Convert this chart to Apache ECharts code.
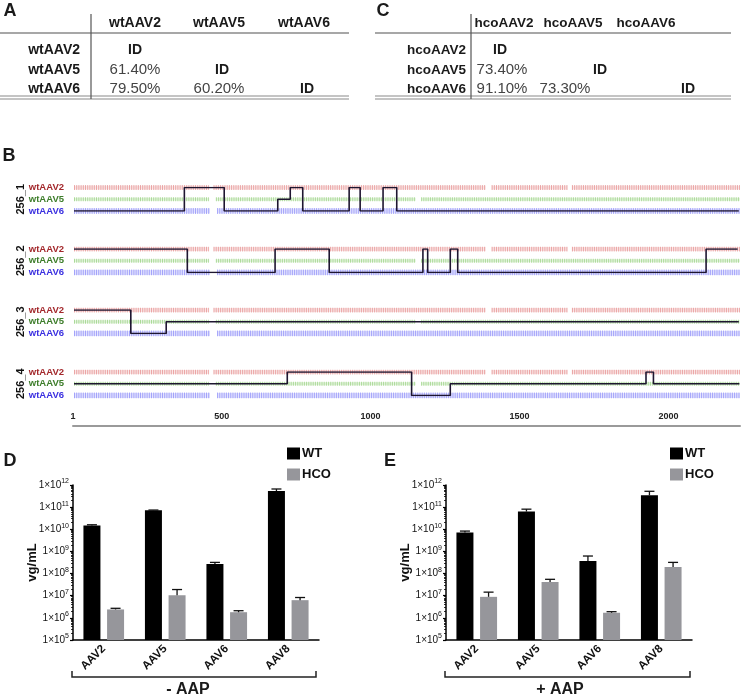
<!DOCTYPE html>
<html><head><meta charset="utf-8">
<script src="https://cdn.jsdelivr.net/npm/echarts@6/dist/echarts.min.js"></script>
<style>html,body{margin:0;padding:0;background:#fff}#c{width:744px;height:698px}</style>
</head><body><div id="c"></div>
<script>
// ================= DATA =================
// Panel A / C identity tables
const tableAHeaders = ['wtAAV2', 'wtAAV5', 'wtAAV6'];
const tableARows = ['wtAAV2', 'wtAAV5', 'wtAAV6'];
const tableAValues = [['ID', '', ''], ['61.40%', 'ID', ''], ['79.50%', '60.20%', 'ID']];
const tableCHeaders = ['hcoAAV2', 'hcoAAV5', 'hcoAAV6'];
const tableCRows = ['hcoAAV2', 'hcoAAV5', 'hcoAAV6'];
const tableCValues = [['ID', '', ''], ['73.40%', 'ID', ''], ['91.10%', '73.30%', 'ID']];

// Panel B: parents (bottom -> top) and clone crossover maps
const parents = ['wtAAV6', 'wtAAV5', 'wtAAV2'];
const cloneNames = ['256_1', '256_2', '256_3', '256_4'];
// [position (nt), parent index: 0 = wtAAV6, 1 = wtAAV5, 2 = wtAAV2]
const clone256_1 = [[1,0],[372,2],[506,0],[686,1],[728,2],[770,0],[926,2],[963,0],[1040,2],[1086,0],[2236,0]];
const clone256_2 = [[1,2],[382,0],[677,2],[859,0],[1174,2],[1190,0],[1266,2],[1291,0],[2126,2],[2232,2]];
const clone256_3 = [[1,2],[192,0],[311,1],[2236,1]];
const clone256_4 = [[1,1],[718,2],[1136,0],[1266,1],[1924,2],[1949,1],[2238,1]];
const seqLength = 2240;
const positionTicks = [1, 500, 1000, 1500, 2000];
// stretches carrying parent-specific marks [start, end]
const marksAAV2 = [[1, 455], [470, 1385], [1405, 1660], [1675, 2240]];
const marksAAV5 = [[1, 455], [478, 1150], [1168, 2240]];
const marksAAV6 = [[1, 458], [482, 2240]];

// Panels D / E: titers (vg/mL), bar heights and upper error ends
const serotypes = ['AAV2', 'AAV5', 'AAV6', 'AAV8'];
const wtMinusAAP     = [1.5e10, 7.2e10, 2.7e8, 5.3e11];
const wtMinusAAPErr  = [1.6e10, 7.4e10, 3.2e8, 6.6e11];
const hcoMinusAAP    = [2.4e6, 1.05e7, 1.8e6, 6.3e6];
const hcoMinusAAPErr = [2.7e6, 1.9e7, 2.1e6, 8.3e6];
const wtPlusAAP      = [7.2e9, 6.3e10, 3.7e8, 3.4e11];
const wtPlusAAPErr   = [8.3e9, 8.1e10, 6.2e8, 5.2e11];
const hcoPlusAAP     = [8.9e6, 4.2e7, 1.7e6, 2.0e8];
const hcoPlusAAPErr  = [1.45e7, 5.5e7, 1.9e6, 3.2e8];
const groupLabels = ['- AAP', '+ AAP'];

// ================= STYLE / LAYOUT =================
const FONT = 'Liberation Sans, Arial, Helvetica, sans-serif';
const parentColors = ['#3a2fe0', '#3d7d2a', '#a3282c'];
const markColors = ['rgba(110,110,245,0.55)', 'rgba(120,195,90,0.55)', 'rgba(220,100,100,0.5)'];
const bandColors = ['rgba(150,150,250,0.25)', 'rgba(160,215,140,0.25)', 'rgba(235,160,160,0.25)'];
const markWidths = [6, 4, 5];
const trackTops = [187.5, 249, 310, 372];
const trackH = 23.5;
const barW = 17, barGapPct = 0.39;
const barOffset = barW * (1 + barGapPct) / 2;

const chart = echarts.init(document.getElementById('c'), null, { renderer: 'canvas' });

const grids = [], xAxes = [], yAxes = [], series = [];

// ---- Panel B tracks ----
const clones = [clone256_1, clone256_2, clone256_3, clone256_4];
const marks = [marksAAV6, marksAAV5, marksAAV2];
clones.forEach((cl, k) => {
  grids.push({ left: 74, right: 4, top: trackTops[k], height: trackH });
  xAxes.push({ gridIndex: k, type: 'value', min: 1, max: seqLength, show: false });
  yAxes.push({
    gridIndex: k, type: 'value', min: 0, max: 2, interval: 1,
    axisLine: { show: false }, axisTick: { show: false }, splitLine: { show: false },
    axisLabel: { fontSize: 9.5, fontWeight: 'bold', fontFamily: FONT, margin: 10,
      formatter: (v) => parents[v] || '',
      color: (v) => parentColors[v] },
    name: cloneNames[k], nameLocation: 'middle', nameRotate: 90, nameGap: 48,
    nameMoveOverlap: false,
    nameTextStyle: { fontSize: 11, fontWeight: 'bold', fontFamily: FONT, color: '#111' }
  });
  marks.forEach((segs, p) => {
    const d = [];
    segs.forEach((s, j) => {
      if (j > 0) d.push([s[0], '-']);
      d.push([s[0], p], [s[1], p]);
    });
    // pale band
    series.push({ type: 'line', xAxisIndex: k, yAxisIndex: k, data: d, symbol: 'none', silent: true,
      z: 1, connectNulls: false, lineStyle: { color: bandColors[p], width: markWidths[p] - 1 } });
    // fine tick texture
    series.push({ type: 'line', xAxisIndex: k, yAxisIndex: k, data: d, symbol: 'none', silent: true,
      z: 1, connectNulls: false,
      lineStyle: { color: markColors[p], width: markWidths[p], type: [1, 1.2] } });
  });
  series.push({ type: 'line', xAxisIndex: k, yAxisIndex: k, data: cl, step: 'end',
    symbol: 'none', silent: true, z: 3, lineStyle: { color: '#1e1630', width: 1.6 } });
});
// position axis
grids.push({ left: 73, right: 4, top: 400, height: 26 });
xAxes.push({ gridIndex: 4, type: 'value', min: 1, max: seqLength,
  axisLine: { show: true, lineStyle: { color: '#9a9a9a', width: 2 } },
  axisTick: { show: false }, splitLine: { show: false },
  axisLabel: { inside: true, customValues: positionTicks, margin: 5, fontSize: 9,
    fontWeight: 'bold', fontFamily: FONT, color: '#222', formatter: (v) => String(v) } });
yAxes.push({ gridIndex: 4, type: 'value', min: 0, max: 1, show: false });

// ---- Panels D / E ----
function errRender(sign) {
  return function (params, api) {
    const cat = api.value(0);
    const b = api.coord([cat, api.value(1)]);
    const t = api.coord([cat, api.value(2)]);
    const x = b[0] + sign * barOffset;
    const st = { stroke: '#111', lineWidth: 1.3 };
    return { type: 'group', children: [
      { type: 'line', shape: { x1: x, y1: b[1], x2: x, y2: t[1] }, style: st },
      { type: 'line', shape: { x1: x - 5, y1: t[1], x2: x + 5, y2: t[1] }, style: st }
    ] };
  };
}
const barPanels = [
  { left: 73, legendLeft: 287, wt: wtMinusAAP, wtE: wtMinusAAPErr, hco: hcoMinusAAP, hcoE: hcoMinusAAPErr },
  { left: 446, legendLeft: 670, wt: wtPlusAAP, wtE: wtPlusAAPErr, hco: hcoPlusAAP, hcoE: hcoPlusAAPErr }
];
const legends = [];
barPanels.forEach((p, i) => {
  const gi = 5 + i;
  grids.push({ left: p.left, top: 485, width: 246, height: 155 });
  xAxes.push({ gridIndex: gi, type: 'category', data: serotypes,
    axisLine: { lineStyle: { color: '#000', width: 1.5 } },
    axisTick: { alignWithLabel: true, length: 4, lineStyle: { color: '#000', width: 1.3 } },
    axisLabel: { rotate: 45, fontSize: 11.5, fontWeight: 'bold', fontFamily: FONT, color: '#111', margin: 7 } });
  yAxes.push({ gridIndex: gi, type: 'log', logBase: 10, min: 1e5, max: 1e12, interval: 1,
    axisLine: { show: true, lineStyle: { color: '#000', width: 1.5 } },
    axisTick: { show: true, length: 3, lineStyle: { color: '#000', width: 1.2 } },
    minorTick: { show: true, splitNumber: 9, length: 2, lineStyle: { color: '#000', width: 0.8 } },
    splitLine: { show: false },
    axisLabel: { margin: 4, fontFamily: FONT, color: '#111',
      formatter: (v) => '{m|1×10}{e|' + Math.round(Math.log10(v)) + '}',
      rich: { m: { fontSize: 10, fontFamily: FONT, color: '#111' },
              e: { fontSize: 7, fontFamily: FONT, color: '#111', padding: [0, 0, 7, 0] } } },
    name: 'vg/mL', nameLocation: 'middle', nameRotate: 90, nameGap: 34, nameMoveOverlap: false,
    nameTextStyle: { fontSize: 13, fontWeight: 'bold', fontFamily: FONT, color: '#111' } });
  series.push({ name: 'WT', type: 'bar', xAxisIndex: gi, yAxisIndex: gi, data: p.wt,
    barWidth: barW, barGap: (barGapPct * 100) + '%', itemStyle: { color: '#000' }, clip: true });
  series.push({ name: 'HCO', type: 'bar', xAxisIndex: gi, yAxisIndex: gi, data: p.hco,
    barWidth: barW, barGap: (barGapPct * 100) + '%', itemStyle: { color: '#96969b' }, clip: true });
  series.push({ type: 'custom', xAxisIndex: gi, yAxisIndex: gi, z: 4, silent: true,
    data: p.wt.map((v, j) => [j, v, p.wtE[j]]), renderItem: errRender(-1) });
  series.push({ type: 'custom', xAxisIndex: gi, yAxisIndex: gi, z: 4, silent: true,
    data: p.hco.map((v, j) => [j, v, p.hcoE[j]]), renderItem: errRender(1) });
  legends.push({ data: ['WT', 'HCO'], orient: 'vertical', left: p.legendLeft, top: 447, padding: 0,
    itemWidth: 13, itemHeight: 12, itemGap: 8, icon: 'rect', selectedMode: false,
    textStyle: { fontSize: 13, fontWeight: 'bold', fontFamily: FONT, color: '#111', padding: [0, 0, 0, -3] } });
});

// ---- graphics: tables, panel letters, brackets ----
const graphic = [];
function txt(x, y, s, size, bold, align, color) {
  graphic.push({ type: 'text', x: x, y: y, silent: true, style: { text: s, fontSize: size,
    fontWeight: bold ? 'bold' : 'normal', fontFamily: FONT, fill: color || '#1a1a1a',
    align: align || 'center', verticalAlign: 'middle' } });
}
function ln(x1, y1, x2, y2, c, w) {
  graphic.push({ type: 'line', silent: true, shape: { x1, y1, x2, y2 }, style: { stroke: c, lineWidth: w } });
}
function table(headers, rows, vals, L) {
  headers.forEach((h, j) => txt(L.hx[j], 23, h, L.fs, true));
  rows.forEach((r, i) => {
    txt(L.labelRight, L.ry[i], r, L.fs, true, 'right');
    vals[i].forEach((v, j) => {
      if (!v) return;
      const isId = v === 'ID';
      txt(isId ? L.idx[j] : L.vx[j], L.ry[i], v, isId ? 14 : 15, isId, 'center', isId ? '#1a1a1a' : '#444');
    });
  });
  ln(L.x0, 33, L.x1, 33, '#8a8a8a', 1.5);
  ln(L.x0, 96, L.x1, 96, '#8a8a8a', 1.2);
  ln(L.x0, 99, L.x1, 99, '#8a8a8a', 1.2);
  ln(L.vline, 14, L.vline, 99, '#555', 1.2);
}
table(tableAHeaders, tableARows, tableAValues,
  { fs: 14, hx: [135, 219, 304], vx: [135, 219, 304], idx: [135, 222, 307], ry: [50, 70, 89],
    labelRight: 80, vline: 91, x0: 0, x1: 349 });
table(tableCHeaders, tableCRows, tableCValues,
  { fs: 13.5, hx: [504, 573, 646], vx: [502, 565, 646], idx: [500, 600, 688], ry: [50, 70, 89],
    labelRight: 466, vline: 471, x0: 375, x1: 731 });

txt(10, 11, 'A', 18, true);
txt(383, 11, 'C', 18, true);
txt(9, 156, 'B', 18, true);
txt(10, 461, 'D', 18, true);
txt(390, 461, 'E', 18, true);

// brackets under bar groups
[[72, 316, 188], [445, 690, 560]].forEach((b, i) => {
  graphic.push({ type: 'polyline', silent: true,
    shape: { points: [[b[0], 671], [b[0], 677], [b[1], 677], [b[1], 671]] },
    style: { stroke: '#222', lineWidth: 1.5, fill: null } });
  txt(b[2], 690, groupLabels[i], 16, true);
});

chart.setOption({
  animation: false,
  backgroundColor: '#fff',
  textStyle: { fontFamily: FONT },
  grid: grids, xAxis: xAxes, yAxis: yAxes, series: series,
  legend: legends,
  graphic: graphic
});
</script></body></html>
